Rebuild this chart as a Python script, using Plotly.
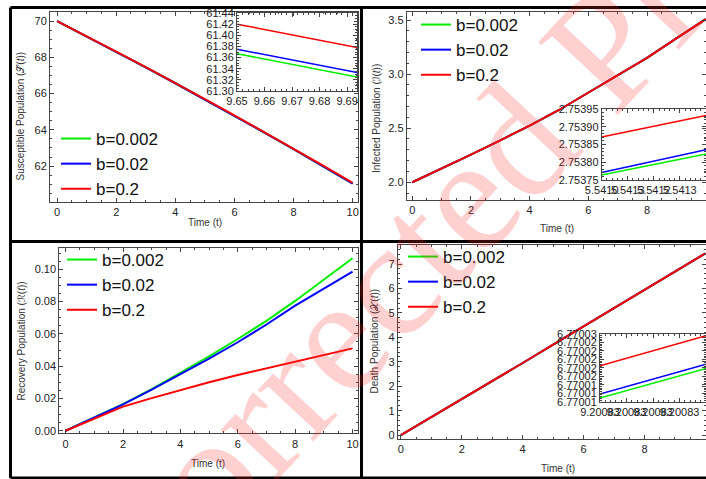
import plotly.graph_objects as go

# ---------------- data ----------------
t = [0, 1, 2, 3, 4, 5, 6, 7, 8, 9, 10]
labels = ["b=0.002", "b=0.02", "b=0.2"]
colors = ["#00ee00", "#0000ff", "#ff0000"]

S_vals = [
    [70.00, 69.16, 68.31, 67.45, 66.57, 65.68, 64.78, 63.86, 62.93, 61.99, 61.03],
    [70.00, 69.16, 68.31, 67.45, 66.57, 65.68, 64.78, 63.86, 62.93, 61.99, 61.04],
    [70.00, 69.17, 68.32, 67.46, 66.59, 65.70, 64.80, 63.89, 62.96, 62.03, 61.08],
]
I_vals = [
    [2.000, 2.125, 2.255, 2.388, 2.524, 2.668, 2.828, 2.990, 3.150, 3.330, 3.508],
    [2.000, 2.125, 2.255, 2.388, 2.524, 2.668, 2.828, 2.990, 3.150, 3.330, 3.508],
    [2.000, 2.125, 2.255, 2.388, 2.524, 2.668, 2.828, 2.990, 3.150, 3.330, 3.508],
]
R_vals = [
    [0.0, 0.0082, 0.0165, 0.0258, 0.0360, 0.0460, 0.0568, 0.0680, 0.0804, 0.0935, 0.1068],
    [0.0, 0.0081, 0.0163, 0.0254, 0.0350, 0.0447, 0.0548, 0.0658, 0.0775, 0.0880, 0.0986],
    [0.0, 0.0075, 0.0149, 0.0202, 0.0252, 0.0300, 0.0345, 0.0387, 0.0428, 0.0470, 0.0510],
]
D_vals = [
    [0.0, 0.73, 1.47, 2.21, 2.95, 3.70, 4.45, 5.20, 5.96, 6.70, 7.44],
    [0.0, 0.73, 1.47, 2.21, 2.95, 3.70, 4.45, 5.20, 5.96, 6.70, 7.44],
    [0.0, 0.73, 1.47, 2.21, 2.95, 3.70, 4.45, 5.20, 5.96, 6.70, 7.44],
]

# insets
inS_t = [9.65, 9.70]
inS_vals = [[61.367, 61.319], [61.375, 61.327], [61.420, 61.372]]
inI_t = [5.5410, 5.5414]
inI_vals = [[2.753764, 2.753823], [2.753771, 2.753835], [2.753871, 2.753932]]
inD_t = [9.2008, 9.2012]
inD_vals = [[6.7700111, 6.7700198], [6.7700123, 6.7700211], [6.7700206, 6.7700295]]

inI_xticks = [5.5410, 5.5411, 5.5412, 5.5413, 5.5414]
inI_xtext = ["5.5410", "5.5413", "5.5412", "5.5413", "5.5415"]
inI_yticks = [2.75375, 2.75380, 2.75385, 2.75390, 2.75395]
inI_ytext = ["2.75375", "2.75380", "2.75385", "2.75390", "2.75395"]
inD_xticks = [9.2008, 9.2009, 9.2010, 9.2011, 9.2012]
inD_xtext = ["9.20083", "9.20083", "9.20083", "9.20083", "9.20083"]
inD_yticks = [6.770010, 6.7700125, 6.770015, 6.7700175, 6.770020,
              6.7700225, 6.770025, 6.7700275, 6.770030]
inD_ytext = ["6.77001", "6.77001", "6.77001", "6.77002", "6.77002",
             "6.77002", "6.77002", "6.77002", "6.77003"]

x_title = "Time (t)"
y_titles = ["Susceptible Population (𝒮(<i>t</i>))", "Infected Population (ℐ(<i>t</i>))",
            "Recovery Population (ℛ(<i>t</i>))", "Death Population (𝒳(<i>t</i>))"]

# ---------------- figure ----------------
W, H = 706, 479
def px(v):
    return v / W
def py(v):
    return 1 - v / H

FONT = "Liberation Sans, Arial, DejaVu Sans"
fig = go.Figure()

panels = [
    (S_vals, "x", "y", "legend"),
    (I_vals, "x2", "y2", "legend2"),
    (R_vals, "x3", "y3", "legend3"),
    (D_vals, "x4", "y4", "legend4"),
]
for vals, xa, ya, lg in panels:
    for k in range(3):
        fig.add_trace(go.Scatter(x=t, y=vals[k], mode="lines", name=labels[k],
                                 line=dict(color=colors[k], width=2),
                                 xaxis=xa, yaxis=ya, legend=lg, showlegend=True))

insets = [(inS_t, inS_vals, "x5", "y5"), (inI_t, inI_vals, "x6", "y6"),
          (inD_t, inD_vals, "x7", "y7")]
for tt, vals, xa, ya in insets:
    for k in range(3):
        fig.add_trace(go.Scatter(x=tt, y=vals[k], mode="lines", name=labels[k],
                                 line=dict(color=colors[k], width=1.5),
                                 xaxis=xa, yaxis=ya, showlegend=False))

AX = "#444"
def axis(domain, rng, dtick, minor, anchor, tick0=0, tickvals=None, ticktext=None,
         fs=11, fmt=None):
    d = dict(domain=domain, range=rng, anchor=anchor, showgrid=False, zeroline=False,
             automargin=False,
             showline=True, linecolor=AX, linewidth=1, mirror="allticks",
             ticks="inside", ticklen=4, tickcolor=AX, tickwidth=1,
             tickfont=dict(family=FONT, size=fs, color="#222"), tickangle=0,
             minor=dict(ticks="inside", ticklen=2, tickcolor=AX, dtick=minor, showgrid=False))
    if tickvals is not None:
        d.update(tickmode="array", tickvals=tickvals, ticktext=ticktext)
    else:
        d.update(tickmode="linear", tick0=tick0, dtick=dtick)
    if fmt:
        d.update(tickformat=fmt)
    return d

fig.update_layout(
    width=W, height=H, margin=dict(l=0, r=0, t=0, b=0, pad=0),
    paper_bgcolor="white", plot_bgcolor="rgba(0,0,0,0)",
    xaxis=axis([px(50), px(358)], [-0.24, 10.18], 2, 0.5, "y"),
    yaxis=axis([py(202), py(12)], [60.02, 70.5], 2, 0.5, "x"),
    xaxis2=axis([px(406.7), 1.0], [-0.19, 10.01], 2, 0.5, "y2"),
    yaxis2=axis([py(200), py(12)], [1.836, 3.574], 0.5, 0.1, "x2", fmt=".1f"),
    xaxis3=axis([px(59.3), px(358.3)], [-0.22, 10.2], 2, 0.5, "y3"),
    yaxis3=axis([py(433.3), py(248.3)], [-0.0016, 0.113], 0.02, 0.005, "x3", fmt=".2f"),
    xaxis4=axis([px(397.7), 1.0], [-0.104, 10.02], 2, 0.5, "y4"),
    yaxis4=axis([py(439), py(245)], [-0.16, 7.78], 1, 0.2, "x4"),
    xaxis5=axis([px(237), px(357)], [9.65, 9.6936], 0.01, 0.002, "y5", tick0=9.65, fmt=".2f"),
    yaxis5=axis([py(91), py(13)], [61.30, 61.44], 0.02, 0.005, "x5", tick0=61.30, fmt=".2f"),
    xaxis6=axis([px(601.7), 1.0], [5.5410, 5.5414], None, 0.00002, "y6",
                tickvals=inI_xticks, ticktext=inI_xtext),
    yaxis6=axis([py(180), py(109)], [2.75375, 2.75395], None, 0.00001, "x6",
                tickvals=inI_yticks, ticktext=inI_ytext),
    xaxis7=axis([px(600), 1.0], [9.2008, 9.2012], None, 0.00002, "y7",
                tickvals=inD_xticks, ticktext=inD_xtext),
    yaxis7=axis([py(401.7), py(334)], [6.770010, 6.770030], None, 0.0000005, "x7",
                tickvals=inD_yticks, ticktext=inD_ytext),
)

for name, (lx, ly) in {"legend": (56, 121), "legend2": (416, 7),
                       "legend3": (62, 242), "legend4": (403, 239)}.items():
    fig.update_layout({name: dict(x=px(lx), y=py(ly), xanchor="left", yanchor="top",
                                  bgcolor="rgba(0,0,0,0)", borderwidth=0,
                                  font=dict(family=FONT, size=17, color="#111"),
                                  tracegroupgap=0)})

# axis titles
TF = dict(family=FONT, size=10, color="#333")
for (cx, cy) in [(205, 222), (557, 229), (208, 463), (558, 468)]:
    fig.add_annotation(text=x_title, xref="paper", yref="paper", x=px(cx), y=py(cy),
                       showarrow=False, font=TF, xanchor="center", yanchor="middle")
for txt, (cx, cy) in zip(y_titles, [(19.5, 116), (376, 119), (20.5, 341), (373.5, 341)]):
    fig.add_annotation(text=txt, xref="paper", yref="paper", x=px(cx), y=py(cy),
                       showarrow=False, font=TF, textangle=-90,
                       xanchor="center", yanchor="middle")

# panel separator lines
for (x0, y0, x1, y1) in [(10.5, 7.5, 706, 7.5), (10.5, 7.5, 10.5, 478),
                         (361.5, 7.5, 361.5, 478), (10.5, 241.5, 706, 241.5),
                         (10.5, 478, 706, 478)]:
    fig.add_shape(type="line", xref="paper", yref="paper",
                  x0=px(x0), y0=py(y0), x1=px(x1), y1=py(y1),
                  line=dict(color="black", width=3))

# watermark
fig.add_annotation(text="Corrected Proof", xref="paper", yref="paper",
                   x=px(462), y=py(200), showarrow=False, textangle=-47,
                   font=dict(family="Liberation Serif, DejaVu Serif", size=165,
                             color="rgba(255,40,40,0.22)"))

fig.write_html("out.html")
